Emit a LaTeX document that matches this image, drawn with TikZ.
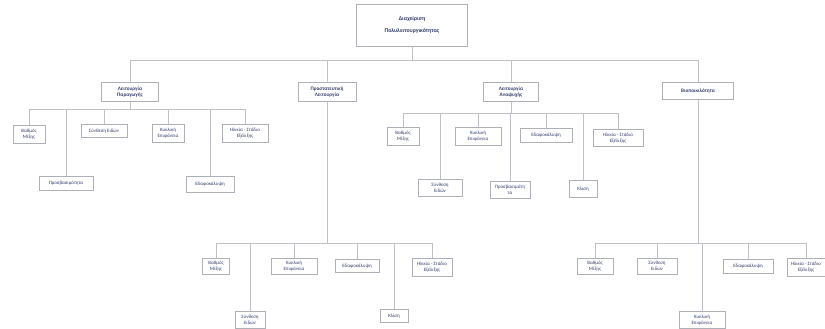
\documentclass[tikz,border=0pt]{standalone}
\usepackage{fontspec}
\setmainfont{Carlito}
\definecolor{txt}{HTML}{343C6A}
\definecolor{bord}{HTML}{AEB0B8}
\definecolor{conn}{HTML}{C0C0C6}
\begin{document}
\begin{tikzpicture}[x=1pt,y=-1pt,
  box/.style={draw=bord,line width=0.8pt,fill=white,rectangle,inner sep=0.5pt,align=center,
    text=txt,font=\fontsize{4.9}{5.6}\selectfont},
  rootbox/.style={box,font=\fontsize{5.8}{12.5}\selectfont\bfseries},
  midbox/.style={box,font=\fontsize{5.2}{6}\selectfont\bfseries},
  conn/.style={draw=conn,line width=0.9pt}]
\fill[white] (0,0) rectangle (825,329);
\useasboundingbox (0,0) rectangle (825,329);
% root
\node[rootbox,minimum width=111pt,minimum height=42pt] (R) at (412,25) {Διαχείριση\\Πολυλειτουργικότητας};
% level 1
\node[midbox,minimum width=57pt,minimum height=19pt] (A) at (130,92) {Λειτουργία\\Παραγωγής};
\node[midbox,minimum width=58pt,minimum height=19pt] (B) at (327,92) {Προστατευτική\\Λειτουργία};
\node[midbox,minimum width=55pt,minimum height=19pt] (C) at (511,92) {Λειτουργία\\Αναψυχής};
\node[midbox,minimum width=71pt,minimum height=17pt] (D) at (698,91) {Βιοποικιλότητα};
\coordinate (j0) at (412,60);
\draw[conn] (R.south) -- (j0);
\foreach \n in {A,B,C,D}{\draw[conn] (\n.north) |- (j0);}
% subtree A
\node[box,minimum width=32pt,minimum height=18pt] (A1) at (29,134) {Βαθμός\\Μίξης};
\node[box,minimum width=54pt,minimum height=14pt] (A2) at (66,183) {Προσβασιμότητα};
\node[box,minimum width=46pt,minimum height=13pt] (A3) at (104,131) {Σύνθεση Ειδών};
\node[box,minimum width=32pt,minimum height=18pt] (A4) at (168,133) {Κυκλική\\Επιφάνεια};
\node[box,minimum width=48pt,minimum height=16pt] (A5) at (210,184) {Εδαφοκάλυψη};
\node[box,minimum width=46pt,minimum height=18pt] (A6) at (245,133) {Ηλικία - Στάδιο\\Εξέλιξης};
\coordinate (ja) at (130,109);
\draw[conn] (A.south) -- (ja);
\foreach \n in {A1,A2,A3,A4,A5,A6}{\draw[conn] (\n.north) |- (ja);}
% subtree B
\node[box,minimum width=27pt,minimum height=16pt] (B1) at (216,266) {Βαθμός\\Μίξης};
\node[box,minimum width=30pt,minimum height=17pt] (B2) at (250,320) {Σύνθεση\\Ειδών};
\node[box,minimum width=46pt,minimum height=16pt] (B3) at (294,266) {Κυκλική\\Επιφάνεια};
\node[box,minimum width=44pt,minimum height=13pt] (B4) at (357,266) {Εδαφοκάλυψη};
\node[box,minimum width=28pt,minimum height=13pt] (B5) at (394,316) {Κλίση};
\node[box,minimum width=40pt,minimum height=18pt] (B6) at (432,267) {Ηλικία - Στάδιο\\Εξέλιξης};
\coordinate (jb) at (327,243);
\draw[conn] (B.south) -- (jb);
\foreach \n in {B1,B2,B3,B4,B5,B6}{\draw[conn] (\n.north) |- (jb);}
% subtree C
\node[box,minimum width=32pt,minimum height=18pt] (C1) at (403,136) {Βαθμός\\Μίξης};
\node[box,minimum width=44pt,minimum height=17pt] (C2) at (440,188) {Σύνθεση\\Ειδών};
\node[box,minimum width=46pt,minimum height=18pt] (C3) at (478,136) {Κυκλική\\Επιφάνεια};
\node[box,minimum width=40pt,minimum height=17pt] (C4) at (510,190) {Προσβασιμότη\\τα};
\node[box,minimum width=52pt,minimum height=14pt] (C5) at (546,135) {Εδαφοκάλυψη};
\node[box,minimum width=28pt,minimum height=17pt] (C6) at (583,189) {Κλίση};
\node[box,minimum width=50pt,minimum height=17pt] (C7) at (618,138) {Ηλικία - Στάδιο\\Εξέλιξης};
\coordinate (jc) at (511,113);
\draw[conn] (C.south) -- (jc);
\foreach \n in {C1,C2,C3,C4,C5,C6,C7}{\draw[conn] (\n.north) |- (jc);}
% subtree D
\node[box,minimum width=36pt,minimum height=16pt] (D1) at (595,266) {Βαθμός\\Μίξης};
\node[box,minimum width=40pt,minimum height=16pt] (D2) at (657,266) {Σύνθεση\\Ειδών};
\node[box,minimum width=46pt,minimum height=17pt] (D3) at (702,320) {Κυκλική\\Επιφάνεια};
\node[box,minimum width=50pt,minimum height=14pt] (D4) at (748,266) {Εδαφοκάλυψη};
\node[box,minimum width=38pt,minimum height=18pt] (D5) at (806,267) {Ηλικία - Στάδιο\\Εξέλιξης};
\coordinate (jd) at (698,243);
\draw[conn] (D.south) -- (jd);
\foreach \n in {D1,D2,D3,D4,D5}{\draw[conn] (\n.north) |- (jd);}
\end{tikzpicture}
\end{document}
